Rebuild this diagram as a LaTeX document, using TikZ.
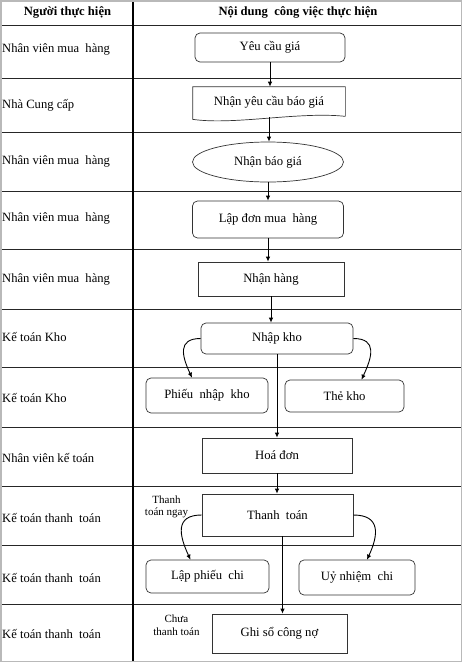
\documentclass[tikz,border=0pt]{standalone}
\usepackage{fontspec}
\setmainfont{Liberation Serif}
\usetikzlibrary{arrows.meta, positioning, shapes.geometric}

\begin{document}
\begin{tikzpicture}[
        x=1pt, y=1pt,
        box/.style={rectangle, draw=black!80, line width=0.7pt, align=center, inner sep=2pt, font=\fontsize{12.7}{14}\selectfont},
        rbox/.style={box, rounded corners=5pt},
        oval/.style={ellipse, draw=black!80, line width=0.7pt, inner sep=1pt, font=\fontsize{12.7}{14}\selectfont},
        lane/.style={anchor=west, inner sep=0pt, font=\fontsize{12.6}{14}\selectfont},
        head/.style={inner sep=0pt, font=\fontsize{12.6}{14}\selectfont\bfseries},
        note/.style={align=center, inner sep=0pt, font=\fontsize{11}{12.5}\selectfont},
        arrow/.style={-{Latex[length=5pt, width=4.5pt]}, line width=0.9pt},
        rowline/.style={black!85, line width=0.8pt}
    ]
        \useasboundingbox (0,0) rectangle (462,-662);

        % Table grid
        \foreach \y in {25,78,132,191,249,309,367,427,486,545,604}
            \draw[rowline] (0,-\y) -- (462,-\y);
        \draw[line width=1.6pt] (133,0) -- (133,-662);
        \draw[gray!55, line width=1.5pt] (0.75,-0.75) rectangle (461.25,-661.25);

        % Header
        \node[head] (hwho) at (67.5,-12.5) {Người thực hiện};
        \node[head] (hwhat) at (298,-12.5) {Nội dung\ \ công việc thực hiện};

        % Lanes
        \node[lane] (l1) at (2,-49) {Nhân viên mua\ \ hàng};
        \node[lane] (l2) at (2,-105) {Nhà Cung cấp};
        \node[lane] (l3) at (2,-161) {Nhân viên mua\ \ hàng};
        \node[lane] (l4) at (2,-218) {Nhân viên mua\ \ hàng};
        \node[lane] (l5) at (2,-279) {Nhân viên mua\ \ hàng};
        \node[lane] (l6) at (2,-337) {Kế toán Kho};
        \node[lane] (l7) at (2,-398) {Kế toán Kho};
        \node[lane] (l8) at (2,-458) {Nhân viên kế toán};
        \node[lane] (l9) at (2,-518) {Kế toán thanh\ \ toán};
        \node[lane] (l10) at (2,-578) {Kế toán thanh\ \ toán};
        \node[lane] (l11) at (2,-634) {Kế toán thanh\ \ toán};

        % Purchase steps
        \node[rbox, minimum width=150pt, minimum height=29pt] (ycg) at (270,-47.5) {Yêu cầu giá};
        \node[box, draw=none, minimum width=152pt, minimum height=30pt] (nyc) at (269,-102) {Nhận yêu cầu báo giá};
        \draw[black!80, line width=0.7pt] ([yshift=1pt]nyc.south east) -- (nyc.north east) -- (nyc.north west) -- ([yshift=-2pt]nyc.south west)
            .. controls +(42,-6) and +(-46,5) .. ([yshift=1pt]nyc.south east);
        \node[oval, minimum width=151pt, minimum height=40pt] (nbg) at (268,-162) {Nhận báo giá};
        \node[rbox, minimum width=151pt, minimum height=37pt] (ldmh) at (268,-219.5) {Lập đơn mua\ \ hàng};
        \node[box, minimum width=146pt, minimum height=34pt] (nh) at (271,-279) {Nhận hàng};

        % Warehouse steps
        \node[rbox, minimum width=152pt, minimum height=31pt] (nk) at (277,-338.5) {Nhập kho};
        \node[rbox, minimum width=122pt, minimum height=35pt] (pnk) at (207,-395.5) {Phiếu\ \ nhập\ \ kho};
        \node[rbox, minimum width=119pt, minimum height=32pt] (tk) at (344.5,-396) {Thẻ kho};

        % Payment steps
        \node[box, minimum width=150pt, minimum height=35pt] (hd) at (277,-455.5) {Hoá đơn};
        \node[box, minimum width=151pt, minimum height=42pt] (tt) at (277.5,-515) {Thanh\ \ toán};
        \node[rbox, minimum width=123pt, minimum height=33pt] (lpc) at (207.5,-576.5) {Lập phiếu\ \ chi};
        \node[rbox, minimum width=116pt, minimum height=35pt] (unc) at (357,-577.5) {Uỷ nhiệm\ \ chi};
        \node[box, minimum width=135pt, minimum height=39pt] (gscn) at (279.5,-633.5) {Ghi sổ công nợ};

        % Notes
        \node[note] (ngay) at (166.5,-507) {Thanh\\toán ngay};
        \node[note] (chua) at (176.5,-625) {Chưa\\thanh toán};

        % Arrows
        \draw[arrow] (ycg.south) -- (ycg.south |- nyc.north);
        \draw[arrow] (nyc.south) -- (nyc.south |- nbg.north);
        \draw[arrow] (nbg.south) -- (nbg.south |- ldmh.north);
        \draw[arrow] (ldmh.south) -- (ldmh.south |- nh.north);
        \draw[arrow] (nh.south) -- (nh.south |- nk.north);
        \draw[arrow] (nk.south) -- (nk.south |- hd.north);
        \draw[arrow] (hd.south) -- (hd.south |- tt.north);
        \draw[arrow] ([xshift=5pt]tt.south) -- ([xshift=5pt]tt.south |- gscn.north);
        \draw[arrow] (nk.west) to[out=180, in=115, looseness=1.5] ([xshift=-15pt]pnk.north);
        \draw[arrow] (nk.east) to[out=0, in=65, looseness=1.5] ([xshift=17pt]tk.north);
        \draw[arrow] (tt.west) to[out=180, in=115, looseness=1.5] ([xshift=-17pt]lpc.north);
        \draw[arrow] (tt.east) to[out=0, in=65, looseness=1.5] ([xshift=10pt]unc.north);
    \end{tikzpicture}
\end{document}
